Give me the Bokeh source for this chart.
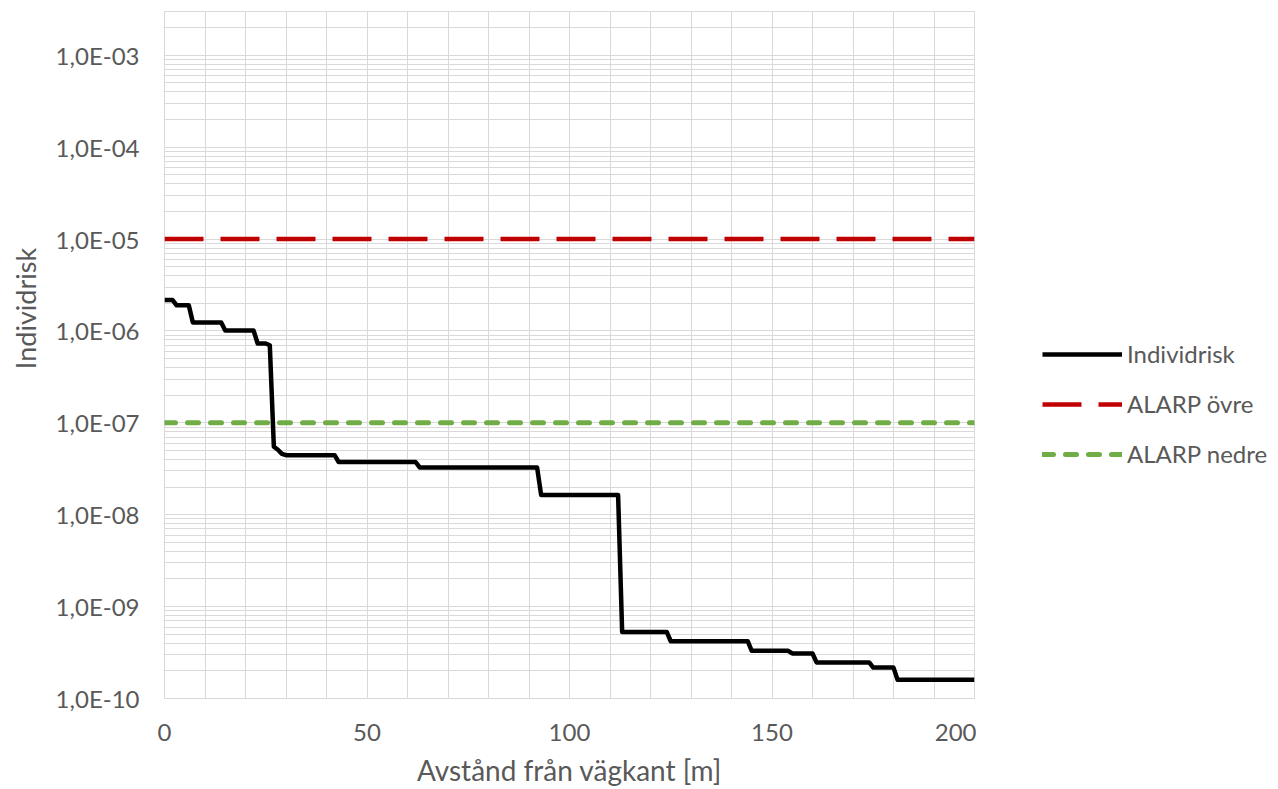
from bokeh.plotting import figure
from bokeh.layouts import row
from bokeh.models import (FixedTicker, CustomJSTickFormatter, Legend, LegendItem,
                          Label, Range1d)
from bokeh.embed import file_html
from bokeh.resources import INLINE

# ---- data ----
distance_m = [0, 2, 3, 6, 7, 14, 15, 22, 23, 25, 26, 27, 28, 29, 30, 42, 43, 62, 63,
              92, 93, 112, 113, 124, 125, 144, 145, 154, 155, 160, 161, 174, 175,
              180, 181, 200]
individrisk = [2.17e-6, 2.17e-6, 1.90e-6, 1.90e-6, 1.24e-6, 1.24e-6, 1.01e-6, 1.01e-6,
               7.3e-7, 7.3e-7, 7.0e-7, 5.5e-8, 5.1e-8, 4.6e-8, 4.45e-8, 4.45e-8,
               3.75e-8, 3.75e-8, 3.27e-8, 3.27e-8, 1.64e-8, 1.64e-8, 5.3e-10, 5.3e-10,
               4.2e-10, 4.2e-10, 3.3e-10, 3.3e-10, 3.09e-10, 3.09e-10, 2.47e-10,
               2.47e-10, 2.17e-10, 2.17e-10, 1.6e-10, 1.6e-10]
alarp_ovre = 1e-5
alarp_nedre = 1e-7
series_names = ["Individrisk", "ALARP övre", "ALARP nedre"]
x_ticks = [0, 50, 100, 150, 200]
y_decades = list(range(-10, -2))   # 1E-10 ... 1E-03
y_min, y_max = 1e-10, 3e-3
x_title = "Avstånd från vägkant [m]"
y_title = "Individrisk"

FONT = "Lato"
TXT = "#595959"
GRID = "#d9d9d9"

STYLE_IND = dict(line_color="black", line_width=4.5, line_join="round")
STYLE_OVRE = dict(line_color="#C00000", line_width=4.5, line_dash="39 17")
STYLE_NEDRE = dict(line_color="#70AD47", line_width=5, line_dash="11 12", line_cap="round")

W, H = 1278, 789
FL, FR, FT, FB = 164, 974, 11, 700   # frame edges in page pixels
W0 = 44                               # left strip holding the y-axis title
W1 = FR + 2 - W0                      # main figure
W2 = W - W0 - W1                      # right strip holding the legend


def blank(width):
    f = figure(width=width, height=H, output_backend="svg", toolbar_location=None,
               x_range=Range1d(0, 1), y_range=Range1d(0, 1),
               x_axis_location=None, y_axis_location=None, min_border=0)
    f.outline_line_color = None
    f.xgrid.visible = False
    f.ygrid.visible = False
    f.background_fill_color = "white"
    f.border_fill_color = "white"
    return f


# ---- main chart ----
p = figure(width=W1, height=H, output_backend="svg", toolbar_location=None,
           y_axis_type="log", x_range=Range1d(0, 200), y_range=Range1d(y_min, y_max),
           min_border_left=FL - W0, min_border_right=W0 + W1 - FR, min_border_top=FT,
           min_border_bottom=H - FB)
p.outline_line_color = GRID
p.background_fill_color = "white"
p.border_fill_color = "white"

p.xaxis.ticker = FixedTicker(ticks=x_ticks,
                             minor_ticks=[v for v in range(0, 201, 10) if v not in x_ticks])
ymajor = [10.0 ** e for e in y_decades]
yminor = [k * 10.0 ** e for e in y_decades for k in range(2, 10) if k * 10.0 ** e <= y_max]
p.yaxis.ticker = FixedTicker(ticks=ymajor, minor_ticks=yminor)
p.yaxis.formatter = CustomJSTickFormatter(code="""
const e = Math.round(Math.log10(tick));
const m = tick / Math.pow(10, e);
const a = Math.abs(e);
return m.toFixed(1).replace('.', ',') + 'E' + (e < 0 ? '-' : '+') + (a < 10 ? '0' : '') + a;
""")
for g in (p.xgrid, p.ygrid):
    g.grid_line_color = GRID
    g.grid_line_width = 1
    g.minor_grid_line_color = GRID
    g.minor_grid_line_width = 1

for ax in (p.xaxis, p.yaxis):
    ax.axis_line_color = None
    ax.major_tick_line_color = None
    ax.minor_tick_line_color = None
    ax.major_label_text_font = FONT
    ax.major_label_text_font_size = "24px"
    ax.major_label_text_color = TXT
p.xaxis.major_label_standoff = 19
p.yaxis.major_label_standoff = 19

p.xaxis.axis_label = x_title
p.xaxis.axis_label_text_font = FONT
p.xaxis.axis_label_text_font_size = "28px"
p.xaxis.axis_label_text_font_style = "normal"
p.xaxis.axis_label_text_color = TXT
p.xaxis.axis_label_standoff = 9

x_span = [distance_m[0], distance_m[-1]]
p.line(x_span, [alarp_ovre] * 2, **STYLE_OVRE)
p.line(x_span, [alarp_nedre] * 2, **STYLE_NEDRE)
p.line(distance_m, individrisk, **STYLE_IND)

# ---- left strip: y-axis title ----
qa = blank(W0)
qa.add_layout(Label(x=25, y=FB - 310, x_units="screen", y_units="screen", text=y_title,
                    angle=1.5707963, text_align="center", text_baseline="middle",
                    text_font=FONT, text_font_size="27px", text_color=TXT))

# ---- right strip: legend ----
qb = blank(W2)
# legend-only renderers, placed outside the strip's visible range
off = [-1.0, -1.0]
l1 = qb.line(off, off, **STYLE_IND)
l2 = qb.line(off, off, **STYLE_OVRE)
l3 = qb.line(off, off, **STYLE_NEDRE)
legend = Legend(items=[LegendItem(label=series_names[0], renderers=[l1]),
                       LegendItem(label=series_names[1], renderers=[l2]),
                       LegendItem(label=series_names[2], renderers=[l3])],
                location=(1042 - W0 - W1, FB - 341 - 129), orientation="vertical",
                glyph_width=80, glyph_height=26, label_height=26, spacing=21,
                label_standoff=5, padding=0, margin=0,
                border_line_color=None, background_fill_alpha=0,
                label_text_font=FONT, label_text_font_size="24px",
                label_text_color=TXT)
qb.add_layout(legend, "center")

layout = row(qa, p, qb, spacing=0)
open("out.html", "w").write(file_html(layout, INLINE))
